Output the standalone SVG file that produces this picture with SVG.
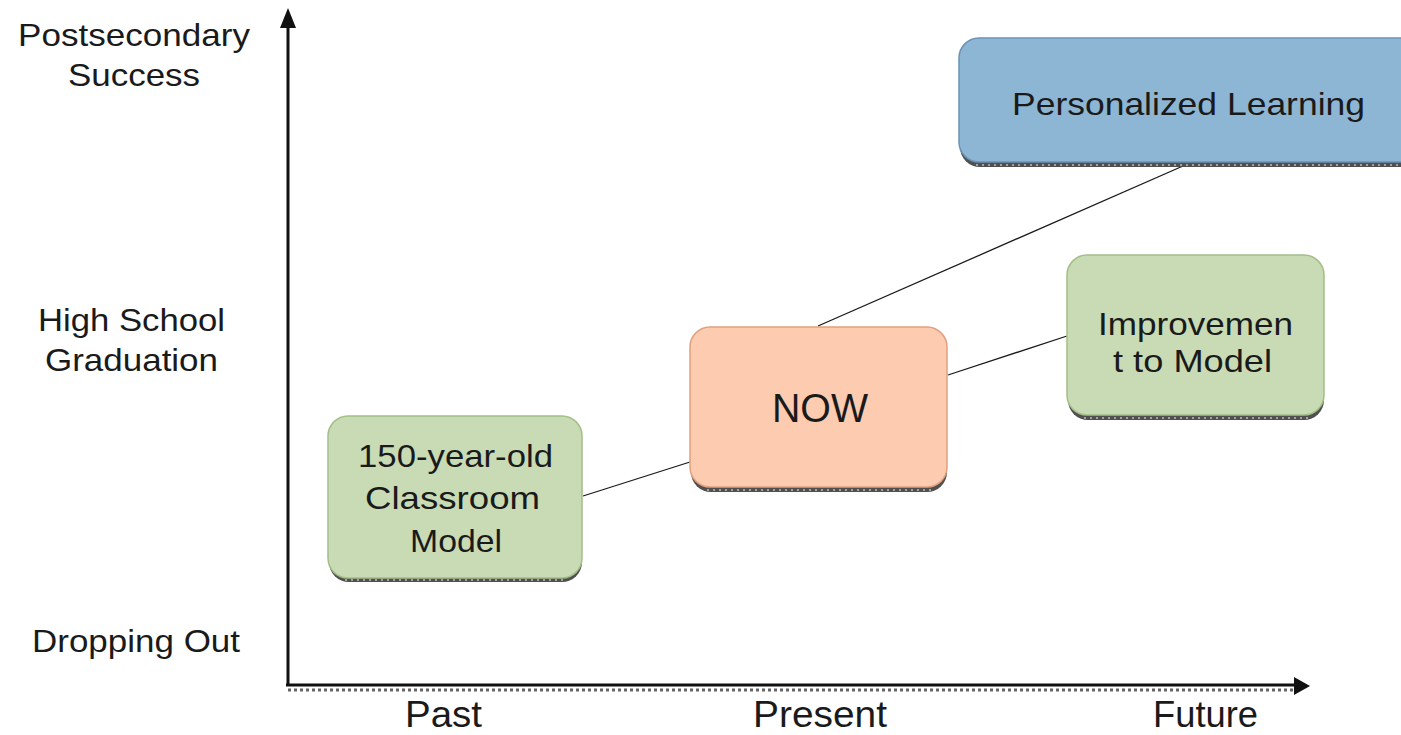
<svg xmlns="http://www.w3.org/2000/svg" width="1401" height="735" viewBox="0 0 1401 735">
<defs>
<style>
.lbl{font-family:"Liberation Sans",Arial,sans-serif;fill:#1a1a1a;}
.ax{font-size:32px;}
.xl{font-size:37px;}
.bt{font-size:32px;}
.shadow{fill:#505050;}
.shdash{stroke:#bdbdbd;stroke-width:1.5;stroke-dasharray:2 4;fill:none;}
.green{fill:#c8dbb5;stroke:#a3bf86;stroke-width:1.5;}
.peach{fill:#fccbb0;stroke:#e2a07c;stroke-width:1.5;}
.blue{fill:#8db5d4;stroke:#6a92b4;stroke-width:1.5;}
.conn{stroke:#1a1a1a;stroke-width:1.3;fill:none;}
</style>
</defs>
<rect width="1401" height="735" fill="#ffffff"/>

<g id="axes">
<line x1="288" y1="690" x2="1296" y2="690" stroke="#666" stroke-width="3" stroke-dasharray="3 3"/>
<line x1="288" y1="686" x2="288" y2="24" stroke="#111" stroke-width="3"/>
<polygon points="288,8 280,28 296,28" fill="#111"/>
<line x1="286" y1="685" x2="1296" y2="685" stroke="#111" stroke-width="3"/>
<polygon points="1310,686 1294,677 1294,695" fill="#111"/>
</g>

<g id="axis-labels">
<text class="lbl ax" x="18" y="46" textLength="232" lengthAdjust="spacingAndGlyphs">Postsecondary</text>
<text class="lbl ax" x="68" y="86" textLength="132" lengthAdjust="spacingAndGlyphs">Success</text>
<text class="lbl ax" x="38" y="331" textLength="187" lengthAdjust="spacingAndGlyphs">High School</text>
<text class="lbl ax" x="45" y="371" textLength="173" lengthAdjust="spacingAndGlyphs">Graduation</text>
<text class="lbl ax" x="32" y="652" textLength="208" lengthAdjust="spacingAndGlyphs">Dropping Out</text>
<text class="lbl xl" x="405" y="727" textLength="77" lengthAdjust="spacingAndGlyphs">Past</text>
<text class="lbl xl" x="753" y="727" textLength="134" lengthAdjust="spacingAndGlyphs">Present</text>
<text class="lbl xl" x="1153" y="727" textLength="105" lengthAdjust="spacingAndGlyphs">Future</text>
</g>

<g id="connectors">
<line class="conn" x1="583" y1="496" x2="690" y2="462"/>
<line class="conn" x1="948" y1="375" x2="1067" y2="336"/>
<line class="conn" x1="818" y1="326" x2="1183" y2="166"/>
</g>

<g id="node-classroom">
<rect class="shadow" x="329" y="421" width="253" height="161" rx="20"/>
<line class="shdash" x1="345" y1="580" x2="566" y2="580"/>
<rect class="green" x="328" y="416" width="254" height="162" rx="20"/>
<text class="lbl bt" x="358" y="467" textLength="195" lengthAdjust="spacingAndGlyphs">150-year-old</text>
<text class="lbl bt" x="365" y="509" textLength="175" lengthAdjust="spacingAndGlyphs">Classroom</text>
<text class="lbl bt" x="410" y="552" textLength="92" lengthAdjust="spacingAndGlyphs">Model</text>
</g>

<g id="node-now">
<rect class="shadow" x="691" y="332" width="256" height="160" rx="20"/>
<line class="shdash" x1="707" y1="490" x2="931" y2="490"/>
<rect class="peach" x="690" y="327" width="257" height="160" rx="20"/>
<text class="lbl" x="772" y="422" font-size="40" textLength="96" lengthAdjust="spacingAndGlyphs">NOW</text>
</g>

<g id="node-improvement">
<rect class="shadow" x="1068" y="260" width="256" height="160" rx="20"/>
<line class="shdash" x1="1084" y1="418" x2="1308" y2="418"/>
<rect class="green" x="1067" y="255" width="257" height="160" rx="20"/>
<text class="lbl bt" x="1098" y="335" textLength="195" lengthAdjust="spacingAndGlyphs">Improvemen</text>
<text class="lbl bt" x="1113" y="372" textLength="159" lengthAdjust="spacingAndGlyphs">t to Model</text>
</g>

<g id="node-personalized">
<rect class="shadow" x="960" y="43" width="460" height="124" rx="20"/>
<line class="shdash" x1="976" y1="165" x2="1401" y2="165"/>
<rect class="blue" x="959" y="38" width="460" height="124" rx="20"/>
<text class="lbl bt" x="1012" y="115" textLength="353" lengthAdjust="spacingAndGlyphs">Personalized Learning</text>
</g>
</svg>
